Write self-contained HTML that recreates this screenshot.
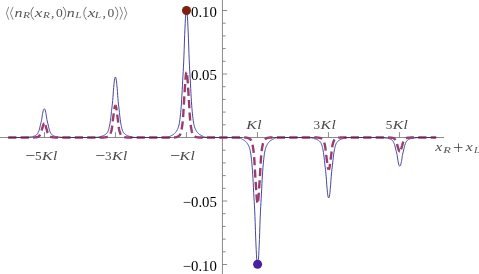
<!DOCTYPE html><html><head><meta charset="utf-8"><style>html,body{margin:0;padding:0;background:#fff;overflow:hidden}</style></head><body><svg width="479" height="274" viewBox="0 0 479 274" style="display:block;will-change:transform">
<rect width="479" height="274" fill="#fff"/>
<g stroke="#6e6e6e" stroke-width="0.8" fill="none">
<line x1="0" y1="137.5" x2="444" y2="137.5"/>
<line x1="222.45" y1="0" x2="222.45" y2="274"/>
<line x1="222.45" y1="264.50" x2="227.14999999999998" y2="264.50"/>
<line x1="222.45" y1="251.80" x2="225.64999999999998" y2="251.80"/>
<line x1="222.45" y1="239.10" x2="225.64999999999998" y2="239.10"/>
<line x1="222.45" y1="226.40" x2="225.64999999999998" y2="226.40"/>
<line x1="222.45" y1="213.70" x2="225.64999999999998" y2="213.70"/>
<line x1="222.45" y1="201.00" x2="227.14999999999998" y2="201.00"/>
<line x1="222.45" y1="188.30" x2="225.64999999999998" y2="188.30"/>
<line x1="222.45" y1="175.60" x2="225.64999999999998" y2="175.60"/>
<line x1="222.45" y1="162.90" x2="225.64999999999998" y2="162.90"/>
<line x1="222.45" y1="150.20" x2="225.64999999999998" y2="150.20"/>
<line x1="222.45" y1="124.80" x2="225.64999999999998" y2="124.80"/>
<line x1="222.45" y1="112.10" x2="225.64999999999998" y2="112.10"/>
<line x1="222.45" y1="99.40" x2="225.64999999999998" y2="99.40"/>
<line x1="222.45" y1="86.70" x2="225.64999999999998" y2="86.70"/>
<line x1="222.45" y1="74.00" x2="227.14999999999998" y2="74.00"/>
<line x1="222.45" y1="61.30" x2="225.64999999999998" y2="61.30"/>
<line x1="222.45" y1="48.60" x2="225.64999999999998" y2="48.60"/>
<line x1="222.45" y1="35.90" x2="225.64999999999998" y2="35.90"/>
<line x1="222.45" y1="23.20" x2="225.64999999999998" y2="23.20"/>
<line x1="222.45" y1="10.50" x2="227.14999999999998" y2="10.50"/>
<line x1="44.45" y1="137.5" x2="44.45" y2="132.1"/>
<line x1="115.45" y1="137.5" x2="115.45" y2="132.1"/>
<line x1="186.45" y1="137.5" x2="186.45" y2="132.1"/>
<line x1="257.45" y1="137.5" x2="257.45" y2="132.1"/>
<line x1="328.45" y1="137.5" x2="328.45" y2="132.1"/>
<line x1="399.45" y1="137.5" x2="399.45" y2="132.1"/>
</g>
<path d="M8.20,137.50 L8.45,137.50 L8.70,137.50 L8.95,137.50 L9.20,137.50 L9.45,137.50 L9.70,137.50 L9.95,137.50 L10.20,137.50 L10.45,137.50 L10.70,137.50 L10.95,137.50 L11.20,137.50 L11.45,137.50 L11.70,137.50 L11.95,137.50 L12.20,137.50 L12.45,137.50 L12.70,137.50 L12.95,137.50 L13.20,137.50 L13.45,137.50 L13.70,137.50 L13.95,137.50 L14.20,137.50 L14.45,137.50 L14.70,137.50 L14.95,137.50 L15.20,137.50 L15.45,137.50 L15.70,137.50 L15.95,137.50 L16.20,137.50 L16.45,137.50 L16.70,137.50 L16.95,137.50 L17.20,137.50 L17.45,137.50 L17.70,137.50 L17.95,137.50 L18.20,137.50 L18.45,137.50 L18.70,137.50 L18.95,137.50 L19.20,137.50 L19.45,137.50 L19.70,137.50 L19.95,137.50 L20.20,137.50 L20.45,137.50 L20.70,137.50 L20.95,137.50 L21.20,137.50 L21.45,137.50 L21.70,137.50 L21.95,137.49 L22.20,137.49 L22.45,137.49 L22.70,137.49 L22.95,137.49 L23.20,137.48 L23.45,137.48 L23.70,137.48 L23.95,137.48 L24.20,137.47 L24.45,137.47 L24.70,137.46 L24.95,137.46 L25.20,137.45 L25.45,137.43 L25.70,137.42 L25.95,137.41 L26.20,137.39 L26.45,137.37 L26.70,137.36 L26.95,137.34 L27.20,137.32 L27.45,137.30 L27.70,137.27 L27.95,137.24 L28.20,137.20 L28.45,137.17 L28.70,137.13 L28.95,137.10 L29.20,137.07 L29.45,137.04 L29.70,137.01 L29.95,136.98 L30.20,136.95 L30.45,136.92 L30.70,136.89 L30.95,136.85 L31.20,136.82 L31.45,136.77 L31.70,136.73 L31.95,136.68 L32.20,136.63 L32.45,136.58 L32.70,136.52 L32.95,136.46 L33.20,136.39 L33.45,136.33 L33.70,136.25 L33.95,136.18 L34.20,136.10 L34.45,136.01 L34.70,135.91 L34.95,135.80 L35.20,135.69 L35.45,135.57 L35.70,135.45 L35.95,135.30 L36.20,135.14 L36.45,134.96 L36.70,134.74 L36.95,134.49 L37.20,134.20 L37.45,133.85 L37.70,133.45 L37.95,132.99 L38.20,132.48 L38.45,131.92 L38.70,131.33 L38.95,130.66 L39.20,129.88 L39.45,129.02 L39.70,128.09 L39.95,127.09 L40.20,125.93 L40.45,124.77 L40.70,123.76 L40.95,122.82 L41.20,121.84 L41.45,120.69 L41.70,119.38 L41.95,117.89 L42.20,116.07 L42.45,114.48 L42.70,113.19 L42.95,111.99 L43.20,110.76 L43.45,109.94 L43.70,109.38 L43.95,109.05 L44.20,108.83 L44.30,108.80 L44.45,108.86 L44.70,109.11 L44.95,109.47 L45.20,110.08 L45.45,110.99 L45.70,112.23 L45.95,113.44 L46.20,114.76 L46.45,116.44 L46.70,118.21 L46.95,119.65 L47.20,120.93 L47.45,122.04 L47.70,123.01 L47.95,123.95 L48.20,124.99 L48.45,126.17 L48.70,127.31 L48.95,128.28 L49.20,129.20 L49.45,130.04 L49.70,130.80 L49.95,131.45 L50.20,132.04 L50.45,132.58 L50.70,133.09 L50.95,133.53 L51.20,133.93 L51.45,134.26 L51.70,134.54 L51.95,134.79 L52.20,135.00 L52.45,135.18 L52.70,135.33 L52.95,135.47 L53.20,135.60 L53.45,135.71 L53.70,135.83 L53.95,135.93 L54.20,136.03 L54.45,136.11 L54.70,136.20 L54.95,136.27 L55.20,136.34 L55.45,136.41 L55.70,136.47 L55.95,136.53 L56.20,136.59 L56.45,136.64 L56.70,136.69 L56.95,136.74 L57.20,136.78 L57.45,136.82 L57.70,136.86 L57.95,136.89 L58.20,136.93 L58.45,136.96 L58.70,136.99 L58.95,137.02 L59.20,137.04 L59.45,137.07 L59.70,137.11 L59.95,137.14 L60.20,137.17 L60.45,137.21 L60.70,137.24 L60.95,137.27 L61.20,137.30 L61.45,137.32 L61.70,137.34 L61.95,137.36 L62.20,137.38 L62.45,137.39 L62.70,137.41 L62.95,137.42 L63.20,137.44 L63.45,137.45 L63.70,137.46 L63.95,137.46 L64.20,137.47 L64.45,137.47 L64.70,137.48 L64.95,137.48 L65.20,137.48 L65.45,137.48 L65.70,137.49 L65.95,137.49 L66.20,137.49 L66.45,137.49 L66.70,137.49 L66.95,137.50 L67.20,137.50 L67.45,137.50 L67.70,137.50 L67.95,137.50 L68.20,137.50 L68.45,137.50 L68.70,137.50 L68.95,137.50 L69.20,137.50 L69.45,137.50 L69.70,137.50 L69.95,137.50 L70.20,137.50 L70.45,137.50 L70.70,137.50 L70.95,137.50 L71.20,137.50 L71.45,137.50 L71.70,137.50 L71.95,137.50 L72.20,137.50 L72.45,137.50 L72.70,137.50 L72.95,137.50 L73.20,137.50 L73.45,137.50 L73.70,137.50 L73.95,137.50 L74.20,137.50 L74.45,137.50 L74.70,137.50 L74.95,137.50 L75.20,137.50 L75.45,137.50 L75.70,137.50 L75.95,137.50 L76.20,137.50 L76.45,137.50 L76.70,137.50 L76.95,137.50 L77.20,137.50 L77.45,137.50 L77.70,137.50 L77.95,137.50 L78.20,137.50 L78.45,137.50 L78.70,137.50 L78.95,137.50 L79.20,137.50 L79.45,137.50 L79.70,137.50 L79.95,137.50 L80.20,137.50 L80.45,137.50 L80.70,137.50 L80.95,137.50 L81.20,137.50 L81.45,137.50 L81.70,137.50 L81.95,137.50 L82.20,137.50 L82.45,137.50 L82.70,137.50 L82.95,137.50 L83.20,137.50 L83.45,137.50 L83.70,137.50 L83.95,137.50 L84.20,137.50 L84.45,137.50 L84.70,137.50 L84.95,137.50 L85.20,137.50 L85.45,137.50 L85.70,137.50 L85.95,137.50 L86.20,137.50 L86.45,137.50 L86.70,137.50 L86.95,137.50 L87.20,137.50 L87.45,137.50 L87.70,137.50 L87.95,137.50 L88.20,137.50 L88.45,137.50 L88.70,137.50 L88.95,137.50 L89.20,137.50 L89.45,137.50 L89.70,137.50 L89.95,137.50 L90.20,137.50 L90.45,137.50 L90.70,137.50 L90.95,137.50 L91.20,137.50 L91.45,137.50 L91.70,137.50 L91.95,137.50 L92.20,137.50 L92.45,137.50 L92.70,137.49 L92.95,137.49 L93.20,137.49 L93.45,137.48 L93.70,137.48 L93.95,137.47 L94.20,137.47 L94.45,137.46 L94.70,137.46 L94.95,137.45 L95.20,137.44 L95.45,137.44 L95.70,137.43 L95.95,137.41 L96.20,137.39 L96.45,137.37 L96.70,137.34 L96.95,137.32 L97.20,137.28 L97.45,137.25 L97.70,137.21 L97.95,137.18 L98.20,137.14 L98.45,137.09 L98.70,137.04 L98.95,136.97 L99.20,136.90 L99.45,136.83 L99.70,136.75 L99.95,136.68 L100.20,136.62 L100.45,136.55 L100.70,136.49 L100.95,136.43 L101.20,136.37 L101.45,136.31 L101.70,136.24 L101.95,136.17 L102.20,136.09 L102.45,136.01 L102.70,135.92 L102.95,135.82 L103.20,135.71 L103.45,135.60 L103.70,135.48 L103.95,135.36 L104.20,135.22 L104.45,135.08 L104.70,134.94 L104.95,134.78 L105.20,134.62 L105.45,134.43 L105.70,134.23 L105.95,134.02 L106.20,133.79 L106.45,133.55 L106.70,133.28 L106.95,133.00 L107.20,132.68 L107.45,132.31 L107.70,131.88 L107.95,131.38 L108.20,130.80 L108.45,130.13 L108.70,129.32 L108.95,128.40 L109.20,127.37 L109.45,126.23 L109.70,125.01 L109.95,123.68 L110.20,122.13 L110.45,120.38 L110.70,118.48 L110.95,116.47 L111.20,114.13 L111.45,111.64 L111.70,109.38 L111.95,107.38 L112.20,105.37 L112.45,103.10 L112.70,100.47 L112.95,97.51 L113.20,93.93 L113.45,90.23 L113.70,87.35 L113.95,84.78 L114.20,82.20 L114.45,80.05 L114.70,78.68 L114.95,77.82 L115.20,77.26 L115.40,77.05 L115.45,77.07 L115.70,77.46 L115.95,78.10 L116.20,79.17 L116.45,80.74 L116.70,83.27 L116.95,85.79 L117.20,88.45 L117.45,91.60 L117.70,95.48 L117.95,98.74 L118.20,101.56 L118.45,104.06 L118.70,106.19 L118.95,108.16 L119.20,110.24 L119.45,112.63 L119.70,115.10 L119.95,117.29 L120.20,119.26 L120.45,121.10 L120.70,122.77 L120.95,124.24 L121.20,125.51 L121.45,126.70 L121.70,127.79 L121.95,128.78 L122.20,129.66 L122.45,130.41 L122.70,131.05 L122.95,131.59 L123.20,132.06 L123.45,132.46 L123.70,132.81 L123.95,133.12 L124.20,133.39 L124.45,133.64 L124.70,133.88 L124.95,134.11 L125.20,134.31 L125.45,134.51 L125.70,134.69 L125.95,134.85 L126.20,135.00 L126.45,135.14 L126.70,135.28 L126.95,135.41 L127.20,135.53 L127.45,135.65 L127.70,135.76 L127.95,135.86 L128.20,135.95 L128.45,136.04 L128.70,136.12 L128.95,136.20 L129.20,136.27 L129.45,136.33 L129.70,136.39 L129.95,136.45 L130.20,136.52 L130.45,136.58 L130.70,136.64 L130.95,136.71 L131.20,136.78 L131.45,136.86 L131.70,136.93 L131.95,137.00 L132.20,137.06 L132.45,137.11 L132.70,137.15 L132.95,137.19 L133.20,137.23 L133.45,137.26 L133.70,137.30 L133.95,137.33 L134.20,137.36 L134.45,137.38 L134.70,137.40 L134.95,137.42 L135.20,137.43 L135.45,137.44 L135.70,137.45 L135.95,137.45 L136.20,137.46 L136.45,137.47 L136.70,137.47 L136.95,137.48 L137.20,137.48 L137.45,137.48 L137.70,137.49 L137.95,137.49 L138.20,137.49 L138.45,137.50 L138.70,137.50 L138.95,137.50 L139.20,137.50 L139.45,137.50 L139.70,137.50 L139.95,137.50 L140.20,137.50 L140.45,137.50 L140.70,137.50 L140.95,137.50 L141.20,137.50 L141.45,137.50 L141.70,137.50 L141.95,137.50 L142.20,137.50 L142.45,137.50 L142.70,137.50 L142.95,137.50 L143.20,137.50 L143.45,137.50 L143.70,137.50 L143.95,137.50 L144.20,137.50 L144.45,137.50 L144.70,137.50 L144.95,137.50 L145.20,137.50 L145.45,137.50 L145.70,137.50 L145.95,137.50 L146.20,137.50 L146.45,137.50 L146.70,137.50 L146.95,137.50 L147.20,137.50 L147.45,137.50 L147.70,137.50 L147.95,137.50 L148.20,137.50 L148.45,137.50 L148.70,137.50 L148.95,137.50 L149.20,137.50 L149.45,137.50 L149.70,137.50 L149.95,137.50 L150.20,137.50 L150.45,137.50 L150.70,137.50 L150.95,137.50 L151.20,137.50 L151.45,137.50 L151.70,137.50 L151.95,137.50 L152.20,137.50 L152.45,137.50 L152.70,137.50 L152.95,137.50 L153.20,137.50 L153.45,137.50 L153.70,137.50 L153.95,137.50 L154.20,137.50 L154.45,137.50 L154.70,137.50 L154.95,137.50 L155.20,137.50 L155.45,137.50 L155.70,137.50 L155.95,137.50 L156.20,137.50 L156.45,137.50 L156.70,137.50 L156.95,137.50 L157.20,137.50 L157.45,137.50 L157.70,137.50 L157.95,137.50 L158.20,137.50 L158.45,137.50 L158.70,137.50 L158.95,137.50 L159.20,137.50 L159.45,137.50 L159.70,137.50 L159.95,137.50 L160.20,137.50 L160.45,137.50 L160.70,137.50 L160.95,137.50 L161.20,137.50 L161.45,137.50 L161.70,137.50 L161.95,137.50 L162.20,137.50 L162.45,137.50 L162.70,137.50 L162.95,137.50 L163.20,137.50 L163.45,137.49 L163.70,137.49 L163.95,137.48 L164.20,137.47 L164.45,137.47 L164.70,137.46 L164.95,137.45 L165.20,137.44 L165.45,137.43 L165.70,137.42 L165.95,137.40 L166.20,137.39 L166.45,137.38 L166.70,137.36 L166.95,137.33 L167.20,137.29 L167.45,137.25 L167.70,137.20 L167.95,137.14 L168.20,137.07 L168.45,137.00 L168.70,136.93 L168.95,136.85 L169.20,136.77 L169.45,136.68 L169.70,136.57 L169.95,136.44 L170.20,136.30 L170.45,136.15 L170.70,135.99 L170.95,135.84 L171.20,135.70 L171.45,135.56 L171.70,135.43 L171.95,135.30 L172.20,135.17 L172.45,135.04 L172.70,134.91 L172.95,134.76 L173.20,134.61 L173.45,134.44 L173.70,134.25 L173.95,134.05 L174.20,133.84 L174.45,133.61 L174.70,133.36 L174.95,133.10 L175.20,132.83 L175.45,132.54 L175.70,132.24 L175.95,131.93 L176.20,131.59 L176.45,131.22 L176.70,130.81 L176.95,130.37 L177.20,129.90 L177.45,129.40 L177.70,128.87 L177.95,128.29 L178.20,127.65 L178.45,126.91 L178.70,126.07 L178.95,125.09 L179.20,123.94 L179.45,122.61 L179.70,121.03 L179.95,119.19 L180.20,117.11 L180.45,114.81 L180.70,112.31 L180.95,109.64 L181.20,106.56 L181.45,103.04 L181.70,99.17 L181.95,95.04 L182.20,90.45 L182.45,85.25 L182.70,80.22 L182.95,75.86 L183.20,71.73 L183.45,67.24 L183.70,62.00 L183.95,56.06 L184.20,49.22 L184.45,41.08 L184.70,34.44 L184.95,28.87 L185.20,23.57 L185.45,18.26 L185.70,14.96 L185.95,12.71 L186.20,11.37 L186.45,10.55 L186.50,10.50 L186.70,10.95 L186.95,12.13 L187.20,13.93 L187.45,16.81 L187.70,21.32 L187.95,26.75 L188.20,32.14 L188.45,38.19 L188.70,45.97 L188.95,53.49 L189.20,59.71 L189.45,65.23 L189.70,70.01 L189.95,74.21 L190.20,78.42 L190.45,83.17 L190.70,88.40 L190.95,93.32 L191.20,97.54 L191.45,101.53 L191.70,105.20 L191.95,108.47 L192.20,111.27 L192.45,113.83 L192.70,116.21 L192.95,118.38 L193.20,120.32 L193.45,122.01 L193.70,123.43 L193.95,124.65 L194.20,125.70 L194.45,126.59 L194.70,127.36 L194.95,128.04 L195.20,128.64 L195.45,129.19 L195.70,129.70 L195.95,130.18 L196.20,130.64 L196.45,131.06 L196.70,131.44 L196.95,131.80 L197.20,132.12 L197.45,132.42 L197.70,132.72 L197.95,133.00 L198.20,133.26 L198.45,133.51 L198.70,133.75 L198.95,133.97 L199.20,134.17 L199.45,134.36 L199.70,134.54 L199.95,134.70 L200.20,134.85 L200.45,134.99 L200.70,135.12 L200.95,135.25 L201.20,135.38 L201.45,135.51 L201.70,135.64 L201.95,135.78 L202.20,135.93 L202.45,136.09 L202.70,136.24 L202.95,136.39 L203.20,136.52 L203.45,136.64 L203.70,136.74 L203.95,136.82 L204.20,136.90 L204.45,136.97 L204.70,137.05 L204.95,137.11 L205.20,137.17 L205.45,137.23 L205.70,137.28 L205.95,137.32 L206.20,137.35 L206.45,137.37 L206.70,137.38 L206.95,137.40 L207.20,137.41 L207.45,137.42 L207.70,137.43 L207.95,137.45 L208.20,137.46 L208.45,137.46 L208.70,137.47 L208.95,137.48 L209.20,137.49 L209.45,137.49 L209.70,137.49 L209.95,137.50 L210.20,137.50 L210.45,137.50 L210.70,137.50 L210.95,137.50 L211.20,137.50 L211.45,137.50 L211.70,137.50 L211.95,137.50 L212.20,137.50 L212.45,137.50 L212.70,137.50 L212.95,137.50 L213.20,137.50 L213.45,137.50 L213.70,137.50 L213.95,137.50 L214.20,137.50 L214.45,137.50 L214.70,137.50 L214.95,137.50 L215.20,137.50 L215.45,137.50 L215.70,137.50 L215.95,137.50 L216.20,137.50 L216.45,137.50 L216.70,137.50 L216.95,137.50 L217.20,137.50 L217.45,137.50 L217.70,137.50 L217.95,137.50 L218.20,137.50 L218.45,137.50 L218.70,137.50 L218.95,137.50 L219.20,137.50 L219.45,137.50 L219.70,137.50 L219.95,137.50 L220.20,137.50 L220.45,137.50 L220.70,137.50 L220.95,137.50 L221.20,137.50 L221.45,137.50 L221.70,137.50 L221.95,137.50 L222.20,137.50 L222.45,137.50 L222.70,137.50 L222.95,137.50 L223.20,137.50 L223.45,137.50 L223.70,137.50 L223.95,137.50 L224.20,137.50 L224.45,137.50 L224.70,137.50 L224.95,137.50 L225.20,137.50 L225.45,137.50 L225.70,137.50 L225.95,137.50 L226.20,137.50 L226.45,137.50 L226.70,137.50 L226.95,137.50 L227.20,137.50 L227.45,137.50 L227.70,137.50 L227.95,137.50 L228.20,137.50 L228.45,137.50 L228.70,137.50 L228.95,137.50 L229.20,137.50 L229.45,137.50 L229.70,137.50 L229.95,137.50 L230.20,137.50 L230.45,137.50 L230.70,137.50 L230.95,137.50 L231.20,137.50 L231.45,137.50 L231.70,137.50 L231.95,137.50 L232.20,137.50 L232.45,137.50 L232.70,137.50 L232.95,137.50 L233.20,137.50 L233.45,137.50 L233.70,137.50 L233.95,137.50 L234.20,137.50 L234.45,137.51 L234.70,137.51 L234.95,137.52 L235.20,137.52 L235.45,137.53 L235.70,137.54 L235.95,137.55 L236.20,137.56 L236.45,137.57 L236.70,137.58 L236.95,137.59 L237.20,137.60 L237.45,137.62 L237.70,137.63 L237.95,137.66 L238.20,137.69 L238.45,137.73 L238.70,137.78 L238.95,137.84 L239.20,137.90 L239.45,137.97 L239.70,138.04 L239.95,138.12 L240.20,138.20 L240.45,138.28 L240.70,138.38 L240.95,138.50 L241.20,138.64 L241.45,138.79 L241.70,138.94 L241.95,139.10 L242.20,139.25 L242.45,139.39 L242.70,139.52 L242.95,139.65 L243.20,139.77 L243.45,139.90 L243.70,140.04 L243.95,140.18 L244.20,140.33 L244.45,140.49 L244.70,140.67 L244.95,140.87 L245.20,141.08 L245.45,141.30 L245.70,141.54 L245.95,141.79 L246.20,142.06 L246.45,142.34 L246.70,142.64 L246.95,142.95 L247.20,143.27 L247.45,143.63 L247.70,144.02 L247.95,144.45 L248.20,144.91 L248.45,145.40 L248.70,145.91 L248.95,146.47 L249.20,147.09 L249.45,147.78 L249.70,148.58 L249.95,149.50 L250.20,150.58 L250.45,151.83 L250.70,153.30 L250.95,155.05 L251.20,157.03 L251.45,159.25 L251.70,161.67 L251.95,164.27 L252.20,167.15 L252.45,170.50 L252.70,174.24 L252.95,178.28 L253.20,182.60 L253.45,187.65 L253.70,192.84 L253.95,197.45 L254.20,201.61 L254.45,205.89 L254.70,210.82 L254.95,216.48 L255.20,222.84 L255.45,230.69 L255.70,238.11 L255.95,243.97 L256.20,249.30 L256.45,254.78 L256.70,258.84 L256.95,261.53 L257.20,263.14 L257.45,264.22 L257.60,264.50 L257.70,264.35 L257.95,263.39 L258.20,261.93 L258.45,259.46 L258.70,255.81 L258.95,250.36 L259.20,245.06 L259.45,239.35 L259.70,232.33 L259.95,224.26 L260.20,217.69 L260.45,211.89 L260.70,206.81 L260.95,202.44 L261.20,198.30 L261.45,193.83 L261.70,188.70 L261.95,183.56 L262.20,179.12 L262.45,175.03 L262.70,171.22 L262.95,167.78 L263.20,164.81 L263.45,162.17 L263.70,159.72 L263.95,157.46 L264.20,155.42 L264.45,153.63 L264.70,152.11 L264.95,150.81 L265.20,149.70 L265.45,148.75 L265.70,147.93 L265.95,147.22 L266.20,146.59 L266.45,146.02 L266.70,145.50 L266.95,145.01 L267.20,144.54 L267.45,144.11 L267.70,143.71 L267.95,143.34 L268.20,143.01 L268.45,142.70 L268.70,142.40 L268.95,142.11 L269.20,141.84 L269.45,141.59 L269.70,141.35 L269.95,141.12 L270.20,140.91 L270.45,140.71 L270.70,140.53 L270.95,140.36 L271.20,140.21 L271.45,140.06 L271.70,139.93 L271.95,139.80 L272.20,139.67 L272.45,139.54 L272.70,139.41 L272.95,139.28 L273.20,139.13 L273.45,138.98 L273.70,138.82 L273.95,138.67 L274.20,138.53 L274.45,138.40 L274.70,138.30 L274.95,138.21 L275.20,138.13 L275.45,138.06 L275.70,137.98 L275.95,137.91 L276.20,137.85 L276.45,137.79 L276.70,137.74 L276.95,137.70 L277.20,137.66 L277.45,137.64 L277.70,137.62 L277.95,137.61 L278.20,137.59 L278.45,137.58 L278.70,137.57 L278.95,137.56 L279.20,137.55 L279.45,137.54 L279.70,137.53 L279.95,137.52 L280.20,137.52 L280.45,137.51 L280.70,137.51 L280.95,137.50 L281.20,137.50 L281.45,137.50 L281.70,137.50 L281.95,137.50 L282.20,137.50 L282.45,137.50 L282.70,137.50 L282.95,137.50 L283.20,137.50 L283.45,137.50 L283.70,137.50 L283.95,137.50 L284.20,137.50 L284.45,137.50 L284.70,137.50 L284.95,137.50 L285.20,137.50 L285.45,137.50 L285.70,137.50 L285.95,137.50 L286.20,137.50 L286.45,137.50 L286.70,137.50 L286.95,137.50 L287.20,137.50 L287.45,137.50 L287.70,137.50 L287.95,137.50 L288.20,137.50 L288.45,137.50 L288.70,137.50 L288.95,137.50 L289.20,137.50 L289.45,137.50 L289.70,137.50 L289.95,137.50 L290.20,137.50 L290.45,137.50 L290.70,137.50 L290.95,137.50 L291.20,137.50 L291.45,137.50 L291.70,137.50 L291.95,137.50 L292.20,137.50 L292.45,137.50 L292.70,137.50 L292.95,137.50 L293.20,137.50 L293.45,137.50 L293.70,137.50 L293.95,137.50 L294.20,137.50 L294.45,137.50 L294.70,137.50 L294.95,137.50 L295.20,137.50 L295.45,137.50 L295.70,137.50 L295.95,137.50 L296.20,137.50 L296.45,137.50 L296.70,137.50 L296.95,137.50 L297.20,137.50 L297.45,137.50 L297.70,137.50 L297.95,137.50 L298.20,137.50 L298.45,137.50 L298.70,137.50 L298.95,137.50 L299.20,137.50 L299.45,137.50 L299.70,137.50 L299.95,137.50 L300.20,137.50 L300.45,137.50 L300.70,137.50 L300.95,137.50 L301.20,137.50 L301.45,137.50 L301.70,137.50 L301.95,137.50 L302.20,137.50 L302.45,137.50 L302.70,137.50 L302.95,137.50 L303.20,137.50 L303.45,137.50 L303.70,137.50 L303.95,137.50 L304.20,137.50 L304.45,137.50 L304.70,137.50 L304.95,137.50 L305.20,137.50 L305.45,137.50 L305.70,137.50 L305.95,137.51 L306.20,137.51 L306.45,137.51 L306.70,137.52 L306.95,137.52 L307.20,137.53 L307.45,137.53 L307.70,137.54 L307.95,137.54 L308.20,137.55 L308.45,137.55 L308.70,137.56 L308.95,137.57 L309.20,137.58 L309.45,137.60 L309.70,137.62 L309.95,137.65 L310.20,137.68 L310.45,137.71 L310.70,137.74 L310.95,137.78 L311.20,137.82 L311.45,137.85 L311.70,137.90 L311.95,137.95 L312.20,138.02 L312.45,138.09 L312.70,138.16 L312.95,138.23 L313.20,138.30 L313.45,138.37 L313.70,138.44 L313.95,138.50 L314.20,138.56 L314.45,138.62 L314.70,138.68 L314.95,138.75 L315.20,138.82 L315.45,138.89 L315.70,138.98 L315.95,139.06 L316.20,139.16 L316.45,139.26 L316.70,139.38 L316.95,139.49 L317.20,139.62 L317.45,139.75 L317.70,139.89 L317.95,140.03 L318.20,140.18 L318.45,140.35 L318.70,140.53 L318.95,140.73 L319.20,140.94 L319.45,141.17 L319.70,141.41 L319.95,141.66 L320.20,141.94 L320.45,142.26 L320.70,142.61 L320.95,143.03 L321.20,143.51 L321.45,144.07 L321.70,144.73 L321.95,145.51 L322.20,146.41 L322.45,147.42 L322.70,148.53 L322.95,149.74 L323.20,151.03 L323.45,152.54 L323.70,154.26 L323.95,156.13 L324.20,158.11 L324.45,160.38 L324.70,162.87 L324.95,165.20 L325.20,167.23 L325.45,169.21 L325.70,171.41 L325.95,173.98 L326.20,176.87 L326.45,180.28 L326.70,184.11 L326.95,187.11 L327.20,189.71 L327.45,192.27 L327.70,194.63 L327.95,196.08 L328.20,197.05 L328.45,197.64 L328.70,197.95 L328.95,197.64 L329.20,197.05 L329.45,196.08 L329.70,194.63 L329.95,192.27 L330.20,189.71 L330.45,187.11 L330.70,184.11 L330.95,180.28 L331.20,176.87 L331.45,173.98 L331.70,171.41 L331.95,169.21 L332.20,167.23 L332.45,165.20 L332.70,162.87 L332.95,160.38 L333.20,158.11 L333.45,156.13 L333.70,154.26 L333.95,152.54 L334.20,151.03 L334.45,149.74 L334.70,148.53 L334.95,147.42 L335.20,146.41 L335.45,145.51 L335.70,144.73 L335.95,144.07 L336.20,143.51 L336.45,143.03 L336.70,142.61 L336.95,142.26 L337.20,141.94 L337.45,141.66 L337.70,141.41 L337.95,141.17 L338.20,140.94 L338.45,140.73 L338.70,140.53 L338.95,140.35 L339.20,140.18 L339.45,140.03 L339.70,139.89 L339.95,139.75 L340.20,139.62 L340.45,139.49 L340.70,139.38 L340.95,139.26 L341.20,139.16 L341.45,139.06 L341.70,138.98 L341.95,138.89 L342.20,138.82 L342.45,138.75 L342.70,138.68 L342.95,138.62 L343.20,138.56 L343.45,138.50 L343.70,138.44 L343.95,138.37 L344.20,138.30 L344.45,138.23 L344.70,138.16 L344.95,138.09 L345.20,138.02 L345.45,137.95 L345.70,137.90 L345.95,137.85 L346.20,137.82 L346.45,137.78 L346.70,137.74 L346.95,137.71 L347.20,137.68 L347.45,137.65 L347.70,137.62 L347.95,137.60 L348.20,137.58 L348.45,137.57 L348.70,137.56 L348.95,137.55 L349.20,137.55 L349.45,137.54 L349.70,137.54 L349.95,137.53 L350.20,137.53 L350.45,137.52 L350.70,137.52 L350.95,137.51 L351.20,137.51 L351.45,137.51 L351.70,137.50 L351.95,137.50 L352.20,137.50 L352.45,137.50 L352.70,137.50 L352.95,137.50 L353.20,137.50 L353.45,137.50 L353.70,137.50 L353.95,137.50 L354.20,137.50 L354.45,137.50 L354.70,137.50 L354.95,137.50 L355.20,137.50 L355.45,137.50 L355.70,137.50 L355.95,137.50 L356.20,137.50 L356.45,137.50 L356.70,137.50 L356.95,137.50 L357.20,137.50 L357.45,137.50 L357.70,137.50 L357.95,137.50 L358.20,137.50 L358.45,137.50 L358.70,137.50 L358.95,137.50 L359.20,137.50 L359.45,137.50 L359.70,137.50 L359.95,137.50 L360.20,137.50 L360.45,137.50 L360.70,137.50 L360.95,137.50 L361.20,137.50 L361.45,137.50 L361.70,137.50 L361.95,137.50 L362.20,137.50 L362.45,137.50 L362.70,137.50 L362.95,137.50 L363.20,137.50 L363.45,137.50 L363.70,137.50 L363.95,137.50 L364.20,137.50 L364.45,137.50 L364.70,137.50 L364.95,137.50 L365.20,137.50 L365.45,137.50 L365.70,137.50 L365.95,137.50 L366.20,137.50 L366.45,137.50 L366.70,137.50 L366.95,137.50 L367.20,137.50 L367.45,137.50 L367.70,137.50 L367.95,137.50 L368.20,137.50 L368.45,137.50 L368.70,137.50 L368.95,137.50 L369.20,137.50 L369.45,137.50 L369.70,137.50 L369.95,137.50 L370.20,137.50 L370.45,137.50 L370.70,137.50 L370.95,137.50 L371.20,137.50 L371.45,137.50 L371.70,137.50 L371.95,137.50 L372.20,137.50 L372.45,137.50 L372.70,137.50 L372.95,137.50 L373.20,137.50 L373.45,137.50 L373.70,137.50 L373.95,137.50 L374.20,137.50 L374.45,137.50 L374.70,137.50 L374.95,137.50 L375.20,137.50 L375.45,137.50 L375.70,137.50 L375.95,137.50 L376.20,137.50 L376.45,137.50 L376.70,137.50 L376.95,137.50 L377.20,137.50 L377.45,137.51 L377.70,137.51 L377.95,137.51 L378.20,137.51 L378.45,137.51 L378.70,137.52 L378.95,137.52 L379.20,137.52 L379.45,137.52 L379.70,137.53 L379.95,137.53 L380.20,137.54 L380.45,137.54 L380.70,137.55 L380.95,137.57 L381.20,137.58 L381.45,137.59 L381.70,137.61 L381.95,137.63 L382.20,137.64 L382.45,137.66 L382.70,137.68 L382.95,137.70 L383.20,137.73 L383.45,137.76 L383.70,137.80 L383.95,137.83 L384.20,137.87 L384.45,137.90 L384.70,137.93 L384.95,137.96 L385.20,137.99 L385.45,138.02 L385.70,138.05 L385.95,138.08 L386.20,138.11 L386.45,138.15 L386.70,138.18 L386.95,138.23 L387.20,138.27 L387.45,138.32 L387.70,138.37 L387.95,138.42 L388.20,138.48 L388.45,138.54 L388.70,138.61 L388.95,138.67 L389.20,138.75 L389.45,138.82 L389.70,138.90 L389.95,138.99 L390.20,139.09 L390.45,139.20 L390.70,139.31 L390.95,139.43 L391.20,139.55 L391.45,139.70 L391.70,139.86 L391.95,140.04 L392.20,140.26 L392.45,140.51 L392.70,140.80 L392.95,141.15 L393.20,141.55 L393.45,142.01 L393.70,142.52 L393.95,143.08 L394.20,143.67 L394.45,144.34 L394.70,145.12 L394.95,145.98 L395.20,146.91 L395.45,147.91 L395.70,149.07 L395.95,150.23 L396.20,151.24 L396.45,152.18 L396.70,153.16 L396.95,154.31 L397.20,155.62 L397.45,157.11 L397.70,158.93 L397.95,160.52 L398.20,161.81 L398.45,163.01 L398.70,164.24 L398.95,165.06 L399.20,165.62 L399.45,165.95 L399.70,166.17 L399.80,166.20 L399.95,166.14 L400.20,165.89 L400.45,165.53 L400.70,164.92 L400.95,164.01 L401.20,162.77 L401.45,161.56 L401.70,160.24 L401.95,158.56 L402.20,156.79 L402.45,155.35 L402.70,154.07 L402.95,152.96 L403.20,151.99 L403.45,151.05 L403.70,150.01 L403.95,148.83 L404.20,147.69 L404.45,146.72 L404.70,145.80 L404.95,144.96 L405.20,144.20 L405.45,143.55 L405.70,142.96 L405.95,142.42 L406.20,141.91 L406.45,141.47 L406.70,141.07 L406.95,140.74 L407.20,140.46 L407.45,140.21 L407.70,140.00 L407.95,139.82 L408.20,139.67 L408.45,139.53 L408.70,139.40 L408.95,139.29 L409.20,139.17 L409.45,139.07 L409.70,138.97 L409.95,138.89 L410.20,138.80 L410.45,138.73 L410.70,138.66 L410.95,138.59 L411.20,138.53 L411.45,138.47 L411.70,138.41 L411.95,138.36 L412.20,138.31 L412.45,138.26 L412.70,138.22 L412.95,138.18 L413.20,138.14 L413.45,138.11 L413.70,138.07 L413.95,138.04 L414.20,138.01 L414.45,137.98 L414.70,137.96 L414.95,137.93 L415.20,137.89 L415.45,137.86 L415.70,137.83 L415.95,137.79 L416.20,137.76 L416.45,137.73 L416.70,137.70 L416.95,137.68 L417.20,137.66 L417.45,137.64 L417.70,137.62 L417.95,137.61 L418.20,137.59 L418.45,137.58 L418.70,137.56 L418.95,137.55 L419.20,137.54 L419.45,137.54 L419.70,137.53 L419.95,137.53 L420.20,137.52 L420.45,137.52 L420.70,137.52 L420.95,137.52 L421.20,137.51 L421.45,137.51 L421.70,137.51 L421.95,137.51 L422.20,137.51 L422.45,137.50 L422.70,137.50 L422.95,137.50 L423.20,137.50 L423.45,137.50 L423.70,137.50 L423.95,137.50 L424.20,137.50 L424.45,137.50 L424.70,137.50 L424.95,137.50 L425.20,137.50 L425.45,137.50 L425.70,137.50 L425.95,137.50 L426.20,137.50 L426.45,137.50 L426.70,137.50 L426.95,137.50 L427.20,137.50 L427.45,137.50 L427.70,137.50 L427.95,137.50 L428.20,137.50 L428.45,137.50 L428.70,137.50 L428.95,137.50 L429.20,137.50 L429.45,137.50 L429.70,137.50 L429.95,137.50 L430.20,137.50 L430.45,137.50 L430.70,137.50 L430.95,137.50 L431.20,137.50 L431.45,137.50 L431.70,137.50 L431.95,137.50 L432.20,137.50 L432.45,137.50 L432.70,137.50 L432.95,137.50 L433.20,137.50 L433.45,137.50 L433.70,137.50 L433.95,137.50 L434.20,137.50 L434.45,137.50 L434.70,137.50 L434.95,137.50 L435.20,137.50 L435.45,137.50 L435.70,137.50 L435.95,137.50 L436.20,137.50" stroke="#3D3D99" stroke-width="0.95" fill="none" stroke-linejoin="round"/>
<path d="M8.20,137.50 L8.45,137.50 L8.70,137.50 L8.95,137.50 L9.20,137.50 L9.45,137.50 L9.70,137.50 L9.95,137.50 L10.20,137.50 L10.45,137.50 L10.70,137.50 L10.95,137.50 L11.20,137.50 L11.45,137.50 L11.70,137.50 L11.95,137.50 L12.20,137.50 L12.45,137.50 L12.70,137.50 L12.95,137.50 L13.20,137.50 L13.45,137.50 L13.70,137.50 L13.95,137.50 L14.20,137.50 L14.45,137.50 L14.70,137.50 L14.95,137.50 L15.20,137.50 L15.45,137.50 L15.70,137.50 L15.95,137.50 L16.20,137.50 L16.45,137.50 L16.70,137.50 L16.95,137.50 L17.20,137.50 L17.45,137.50 L17.70,137.50 L17.95,137.50 L18.20,137.50 L18.45,137.50 L18.70,137.50 L18.95,137.50 L19.20,137.50 L19.45,137.50 L19.70,137.50 L19.95,137.50 L20.20,137.50 L20.45,137.50 L20.70,137.50 L20.95,137.50 L21.20,137.50 L21.45,137.50 L21.70,137.50 L21.95,137.50 L22.20,137.50 L22.45,137.50 L22.70,137.50 L22.95,137.50 L23.20,137.50 L23.45,137.50 L23.70,137.50 L23.95,137.50 L24.20,137.50 L24.45,137.50 L24.70,137.50 L24.95,137.50 L25.20,137.50 L25.45,137.50 L25.70,137.50 L25.95,137.50 L26.20,137.50 L26.45,137.50 L26.70,137.50 L26.95,137.50 L27.20,137.50 L27.45,137.50 L27.70,137.50 L27.95,137.50 L28.20,137.50 L28.45,137.50 L28.70,137.50 L28.95,137.50 L29.20,137.50 L29.45,137.50 L29.70,137.50 L29.95,137.50 L30.20,137.50 L30.45,137.50 L30.70,137.50 L30.95,137.49 L31.20,137.49 L31.45,137.49 L31.70,137.49 L31.95,137.49 L32.20,137.49 L32.45,137.48 L32.70,137.48 L32.95,137.47 L33.20,137.46 L33.45,137.45 L33.70,137.44 L33.95,137.43 L34.20,137.42 L34.45,137.41 L34.70,137.39 L34.95,137.37 L35.20,137.35 L35.45,137.33 L35.70,137.30 L35.95,137.27 L36.20,137.24 L36.45,137.20 L36.70,137.15 L36.95,137.11 L37.20,137.06 L37.45,137.01 L37.70,136.95 L37.95,136.87 L38.20,136.78 L38.45,136.64 L38.70,136.44 L38.95,136.21 L39.20,135.95 L39.45,135.68 L39.70,135.39 L39.95,135.05 L40.20,134.66 L40.45,134.23 L40.70,133.70 L40.95,132.99 L41.20,132.12 L41.45,131.17 L41.70,130.20 L41.95,129.30 L42.20,128.47 L42.45,127.65 L42.70,126.83 L42.95,125.98 L43.20,125.19 L43.45,124.55 L43.70,124.02 L43.95,123.73 L44.20,123.55 L44.30,123.53" stroke="#993D71" stroke-width="2.4" fill="none" stroke-dasharray="8.2 4.25" stroke-dashoffset="0.00" stroke-linejoin="round"/>
<path d="M44.30,123.53 L44.45,123.57 L44.70,123.78 L44.95,124.10 L45.20,124.67 L45.45,125.34 L45.70,126.15 L45.95,127.00 L46.20,127.81 L46.45,128.63 L46.70,129.47 L46.95,130.39 L47.20,131.36 L47.45,132.31 L47.70,133.15 L47.95,133.82 L48.20,134.32 L48.45,134.74 L48.70,135.12 L48.95,135.45 L49.20,135.74 L49.45,136.01 L49.70,136.26 L49.95,136.49 L50.20,136.67 L50.45,136.80 L50.70,136.89 L50.95,136.96 L51.20,137.02 L51.45,137.07 L51.70,137.12 L51.95,137.16 L52.20,137.20 L52.45,137.24 L52.70,137.28 L52.95,137.30 L53.20,137.33 L53.45,137.35 L53.70,137.38 L53.95,137.40 L54.20,137.41 L54.45,137.42 L54.70,137.43 L54.95,137.45 L55.20,137.45 L55.45,137.46 L55.70,137.47 L55.95,137.48 L56.20,137.48 L56.45,137.49 L56.70,137.49 L56.95,137.49 L57.20,137.49 L57.45,137.49 L57.70,137.50 L57.95,137.50 L58.20,137.50 L58.45,137.50 L58.70,137.50 L58.95,137.50 L59.20,137.50 L59.45,137.50 L59.70,137.50 L59.95,137.50 L60.20,137.50 L60.45,137.50 L60.70,137.50 L60.95,137.50 L61.20,137.50 L61.45,137.50 L61.70,137.50 L61.95,137.50 L62.20,137.50 L62.45,137.50 L62.70,137.50 L62.95,137.50 L63.20,137.50 L63.45,137.50 L63.70,137.50 L63.95,137.50 L64.20,137.50 L64.45,137.50 L64.70,137.50 L64.95,137.50 L65.20,137.50 L65.45,137.50 L65.70,137.50 L65.95,137.50 L66.20,137.50 L66.45,137.50 L66.70,137.50 L66.95,137.50 L67.20,137.50 L67.45,137.50 L67.70,137.50 L67.95,137.50 L68.20,137.50 L68.45,137.50 L68.70,137.50 L68.95,137.50 L69.20,137.50 L69.45,137.50 L69.70,137.50 L69.95,137.50 L70.20,137.50 L70.45,137.50 L70.70,137.50 L70.95,137.50 L71.20,137.50 L71.45,137.50 L71.70,137.50 L71.95,137.50 L72.20,137.50 L72.45,137.50 L72.70,137.50 L72.95,137.50 L73.20,137.50 L73.45,137.50 L73.70,137.50 L73.95,137.50 L74.20,137.50 L74.45,137.50 L74.70,137.50 L74.95,137.50 L75.20,137.50 L75.45,137.50 L75.70,137.50 L75.95,137.50 L76.20,137.50 L76.45,137.50 L76.70,137.50 L76.95,137.50 L77.20,137.50 L77.45,137.50 L77.70,137.50 L77.95,137.50 L78.20,137.50 L78.45,137.50 L78.70,137.50 L78.95,137.50 L79.20,137.50 L79.45,137.50 L79.70,137.50 L79.95,137.50 L80.20,137.50 L80.45,137.50 L80.70,137.50 L80.95,137.50 L81.20,137.50 L81.45,137.50 L81.70,137.50 L81.95,137.50 L82.20,137.50 L82.45,137.50 L82.70,137.50 L82.95,137.50 L83.20,137.50 L83.45,137.50 L83.70,137.50 L83.95,137.50 L84.20,137.50 L84.45,137.50 L84.70,137.50 L84.95,137.50 L85.20,137.50 L85.45,137.50 L85.70,137.50 L85.95,137.50 L86.20,137.50 L86.45,137.50 L86.70,137.50 L86.95,137.50 L87.20,137.50 L87.45,137.50 L87.70,137.50 L87.95,137.50 L88.20,137.50 L88.45,137.50 L88.70,137.50 L88.95,137.50 L89.20,137.50 L89.45,137.50 L89.70,137.50 L89.95,137.50 L90.20,137.50 L90.45,137.50 L90.70,137.50 L90.95,137.50 L91.20,137.50 L91.45,137.50 L91.70,137.50 L91.95,137.50 L92.20,137.50 L92.45,137.50 L92.70,137.50 L92.95,137.50 L93.20,137.50 L93.45,137.50 L93.70,137.50 L93.95,137.50 L94.20,137.50 L94.45,137.50 L94.70,137.50 L94.95,137.50 L95.20,137.50 L95.45,137.50 L95.70,137.50 L95.95,137.50 L96.20,137.50 L96.45,137.50 L96.70,137.50 L96.95,137.50 L97.20,137.50 L97.45,137.50 L97.70,137.50 L97.95,137.50 L98.20,137.50 L98.45,137.50 L98.70,137.50 L98.95,137.50 L99.20,137.50 L99.45,137.50 L99.70,137.50 L99.95,137.50 L100.20,137.50 L100.45,137.50 L100.70,137.50 L100.95,137.50 L101.20,137.50 L101.45,137.49 L101.70,137.49 L101.95,137.49 L102.20,137.49 L102.45,137.48 L102.70,137.48 L102.95,137.47 L103.20,137.47 L103.45,137.46 L103.70,137.45 L103.95,137.44 L104.20,137.42 L104.45,137.40 L104.70,137.38 L104.95,137.35 L105.20,137.33 L105.45,137.30 L105.70,137.27 L105.95,137.23 L106.20,137.18 L106.45,137.12 L106.70,137.06 L106.95,137.00 L107.20,136.93 L107.45,136.84 L107.70,136.75 L107.95,136.65 L108.20,136.54 L108.45,136.43 L108.70,136.29 L108.95,136.14 L109.20,135.94 L109.45,135.67 L109.70,135.27 L109.95,134.77 L110.20,134.20 L110.45,133.59 L110.70,132.95 L110.95,132.20 L111.20,131.36 L111.45,130.42 L111.70,129.32 L111.95,127.88 L112.20,126.01 L112.45,123.89 L112.70,121.66 L112.95,119.51 L113.20,117.56 L113.45,115.68 L113.70,113.82 L113.95,111.89 L114.20,109.99 L114.45,108.41 L114.70,107.04 L114.95,106.18 L115.20,105.66 L115.40,105.50" stroke="#993D71" stroke-width="2.4" fill="none" stroke-dasharray="8.2 4.25" stroke-dashoffset="10.37" stroke-linejoin="round"/>
<path d="M115.40,105.50 L115.45,105.51 L115.70,105.84 L115.95,106.43 L116.20,107.55 L116.45,108.99 L116.70,110.73 L116.95,112.67 L117.20,114.56 L117.45,116.43 L117.70,118.33 L117.95,120.35 L118.20,122.55 L118.45,124.76 L118.70,126.80 L118.95,128.51 L119.20,129.79 L119.45,130.81 L119.70,131.71 L119.95,132.51 L120.20,133.21 L120.45,133.83 L120.70,134.43 L120.95,134.98 L121.20,135.45 L121.45,135.80 L121.70,136.02 L121.95,136.20 L122.20,136.35 L122.45,136.47 L122.70,136.58 L122.95,136.69 L123.20,136.79 L123.45,136.88 L123.70,136.96 L123.95,137.03 L124.20,137.09 L124.45,137.15 L124.70,137.20 L124.95,137.24 L125.20,137.28 L125.45,137.31 L125.70,137.34 L125.95,137.36 L126.20,137.39 L126.45,137.41 L126.70,137.43 L126.95,137.44 L127.20,137.46 L127.45,137.46 L127.70,137.47 L127.95,137.47 L128.20,137.48 L128.45,137.48 L128.70,137.49 L128.95,137.49 L129.20,137.49 L129.45,137.50 L129.70,137.50 L129.95,137.50 L130.20,137.50 L130.45,137.50 L130.70,137.50 L130.95,137.50 L131.20,137.50 L131.45,137.50 L131.70,137.50 L131.95,137.50 L132.20,137.50 L132.45,137.50 L132.70,137.50 L132.95,137.50 L133.20,137.50 L133.45,137.50 L133.70,137.50 L133.95,137.50 L134.20,137.50 L134.45,137.50 L134.70,137.50 L134.95,137.50 L135.20,137.50 L135.45,137.50 L135.70,137.50 L135.95,137.50 L136.20,137.50 L136.45,137.50 L136.70,137.50 L136.95,137.50 L137.20,137.50 L137.45,137.50 L137.70,137.50 L137.95,137.50 L138.20,137.50 L138.45,137.50 L138.70,137.50 L138.95,137.50 L139.20,137.50 L139.45,137.50 L139.70,137.50 L139.95,137.50 L140.20,137.50 L140.45,137.50 L140.70,137.50 L140.95,137.50 L141.20,137.50 L141.45,137.50 L141.70,137.50 L141.95,137.50 L142.20,137.50 L142.45,137.50 L142.70,137.50 L142.95,137.50 L143.20,137.50 L143.45,137.50 L143.70,137.50 L143.95,137.50 L144.20,137.50 L144.45,137.50 L144.70,137.50 L144.95,137.50 L145.20,137.50 L145.45,137.50 L145.70,137.50 L145.95,137.50 L146.20,137.50 L146.45,137.50 L146.70,137.50 L146.95,137.50 L147.20,137.50 L147.45,137.50 L147.70,137.50 L147.95,137.50 L148.20,137.50 L148.45,137.50 L148.70,137.50 L148.95,137.50 L149.20,137.50 L149.45,137.50 L149.70,137.50 L149.95,137.50 L150.20,137.50 L150.45,137.50 L150.70,137.50 L150.95,137.50 L151.20,137.50 L151.45,137.50 L151.70,137.50 L151.95,137.50 L152.20,137.50 L152.45,137.50 L152.70,137.50 L152.95,137.50 L153.20,137.50 L153.45,137.50 L153.70,137.50 L153.95,137.50 L154.20,137.50 L154.45,137.50 L154.70,137.50 L154.95,137.50 L155.20,137.50 L155.45,137.50 L155.70,137.50 L155.95,137.50 L156.20,137.50 L156.45,137.50 L156.70,137.50 L156.95,137.50 L157.20,137.50 L157.45,137.50 L157.70,137.50 L157.95,137.50 L158.20,137.50 L158.45,137.50 L158.70,137.50 L158.95,137.50 L159.20,137.50 L159.45,137.50 L159.70,137.50 L159.95,137.50 L160.20,137.50 L160.45,137.50 L160.70,137.50 L160.95,137.50 L161.20,137.50 L161.45,137.50 L161.70,137.50 L161.95,137.50 L162.20,137.50 L162.45,137.50 L162.70,137.50 L162.95,137.50 L163.20,137.50 L163.45,137.50 L163.70,137.50 L163.95,137.50 L164.20,137.50 L164.45,137.50 L164.70,137.50 L164.95,137.50 L165.20,137.50 L165.45,137.50 L165.70,137.50 L165.95,137.50 L166.20,137.50 L166.45,137.50 L166.70,137.50 L166.95,137.50 L167.20,137.50 L167.45,137.50 L167.70,137.50 L167.95,137.50 L168.20,137.50 L168.45,137.50 L168.70,137.50 L168.95,137.50 L169.20,137.50 L169.45,137.50 L169.70,137.50 L169.95,137.50 L170.20,137.50 L170.45,137.50 L170.70,137.50 L170.95,137.50 L171.20,137.50 L171.45,137.50 L171.70,137.50 L171.95,137.50 L172.20,137.50 L172.45,137.49 L172.70,137.49 L172.95,137.48 L173.20,137.47 L173.45,137.47 L173.70,137.46 L173.95,137.45 L174.20,137.44 L174.45,137.43 L174.70,137.41 L174.95,137.38 L175.20,137.35 L175.45,137.31 L175.70,137.27 L175.95,137.22 L176.20,137.17 L176.45,137.12 L176.70,137.06 L176.95,136.98 L177.20,136.89 L177.45,136.78 L177.70,136.66 L177.95,136.54 L178.20,136.40 L178.45,136.23 L178.70,136.05 L178.95,135.85 L179.20,135.64 L179.45,135.41 L179.70,135.16 L179.95,134.86 L180.20,134.50 L180.45,134.04 L180.70,133.33 L180.95,132.38 L181.20,131.27 L181.45,130.05 L181.70,128.79 L181.95,127.37 L182.20,125.74 L182.45,123.91 L182.70,121.84 L182.95,119.23 L183.20,115.76 L183.45,111.61 L183.70,107.13 L183.95,102.66 L184.20,98.55 L184.45,94.68 L184.70,90.89 L184.95,87.05 L185.20,83.11 L185.45,79.58 L185.70,76.66 L185.95,74.38 L186.20,73.18 L186.45,72.50 L186.50,72.48" stroke="#993D71" stroke-width="2.4" fill="none" stroke-dasharray="8.2 4.25" stroke-dashoffset="3.10" stroke-linejoin="round"/>
<path d="M186.50,72.48 L186.70,72.81 L186.95,73.86 L187.20,75.61 L187.45,78.39 L187.70,81.61 L187.95,85.46 L188.20,89.38 L188.45,93.16 L188.70,96.99 L188.95,100.96 L189.20,105.32 L189.45,109.84 L189.70,114.16 L189.95,117.95 L190.20,120.88 L190.45,123.12 L190.70,125.03 L190.95,126.74 L191.20,128.25 L191.45,129.55 L191.70,130.79 L191.95,131.95 L192.20,132.98 L192.45,133.79 L192.70,134.34 L192.95,134.73 L193.20,135.05 L193.45,135.32 L193.70,135.55 L193.95,135.77 L194.20,135.97 L194.45,136.16 L194.70,136.33 L194.95,136.48 L195.20,136.61 L195.45,136.73 L195.70,136.84 L195.95,136.94 L196.20,137.03 L196.45,137.10 L196.70,137.15 L196.95,137.21 L197.20,137.25 L197.45,137.30 L197.70,137.34 L197.95,137.37 L198.20,137.40 L198.45,137.42 L198.70,137.43 L198.95,137.45 L199.20,137.45 L199.45,137.46 L199.70,137.47 L199.95,137.48 L200.20,137.48 L200.45,137.49 L200.70,137.49 L200.95,137.50 L201.20,137.50 L201.45,137.50 L201.70,137.50 L201.95,137.50 L202.20,137.50 L202.45,137.50 L202.70,137.50 L202.95,137.50 L203.20,137.50 L203.45,137.50 L203.70,137.50 L203.95,137.50 L204.20,137.50 L204.45,137.50 L204.70,137.50 L204.95,137.50 L205.20,137.50 L205.45,137.50 L205.70,137.50 L205.95,137.50 L206.20,137.50 L206.45,137.50 L206.70,137.50 L206.95,137.50 L207.20,137.50 L207.45,137.50 L207.70,137.50 L207.95,137.50 L208.20,137.50 L208.45,137.50 L208.70,137.50 L208.95,137.50 L209.20,137.50 L209.45,137.50 L209.70,137.50 L209.95,137.50 L210.20,137.50 L210.45,137.50 L210.70,137.50 L210.95,137.50 L211.20,137.50 L211.45,137.50 L211.70,137.50 L211.95,137.50 L212.20,137.50 L212.45,137.50 L212.70,137.50 L212.95,137.50 L213.20,137.50 L213.45,137.50 L213.70,137.50 L213.95,137.50 L214.20,137.50 L214.45,137.50 L214.70,137.50 L214.95,137.50 L215.20,137.50 L215.45,137.50 L215.70,137.50 L215.95,137.50 L216.20,137.50 L216.45,137.50 L216.70,137.50 L216.95,137.50 L217.20,137.50 L217.45,137.50 L217.70,137.50 L217.95,137.50 L218.20,137.50 L218.45,137.50 L218.70,137.50 L218.95,137.50 L219.20,137.50 L219.45,137.50 L219.70,137.50 L219.95,137.50 L220.20,137.50 L220.45,137.50 L220.70,137.50 L220.95,137.50 L221.20,137.50 L221.45,137.50 L221.70,137.50 L221.95,137.50 L222.20,137.50 L222.45,137.50 L222.70,137.50 L222.95,137.50 L223.20,137.50 L223.45,137.50 L223.70,137.50 L223.95,137.50 L224.20,137.50 L224.45,137.50 L224.70,137.50 L224.95,137.50 L225.20,137.50 L225.45,137.50 L225.70,137.50 L225.95,137.50 L226.20,137.50 L226.45,137.50 L226.70,137.50 L226.95,137.50 L227.20,137.50 L227.45,137.50 L227.70,137.50 L227.95,137.50 L228.20,137.50 L228.45,137.50 L228.70,137.50 L228.95,137.50 L229.20,137.50 L229.45,137.50 L229.70,137.50 L229.95,137.50 L230.20,137.50 L230.45,137.50 L230.70,137.50 L230.95,137.50 L231.20,137.50 L231.45,137.50 L231.70,137.50 L231.95,137.50 L232.20,137.50 L232.45,137.50 L232.70,137.50 L232.95,137.50 L233.20,137.50 L233.45,137.50 L233.70,137.50 L233.95,137.50 L234.20,137.50 L234.45,137.50 L234.70,137.50 L234.95,137.50 L235.20,137.50 L235.45,137.50 L235.70,137.50 L235.95,137.50 L236.20,137.50 L236.45,137.50 L236.70,137.50 L236.95,137.50 L237.20,137.50 L237.45,137.50 L237.70,137.50 L237.95,137.50 L238.20,137.50 L238.45,137.50 L238.70,137.50 L238.95,137.50 L239.20,137.50 L239.45,137.50 L239.70,137.50 L239.95,137.50 L240.20,137.50 L240.45,137.50 L240.70,137.50 L240.95,137.50 L241.20,137.50 L241.45,137.50 L241.70,137.50 L241.95,137.50 L242.20,137.50 L242.45,137.50 L242.70,137.50 L242.95,137.50 L243.20,137.50 L243.45,137.51 L243.70,137.51 L243.95,137.52 L244.20,137.52 L244.45,137.53 L244.70,137.54 L244.95,137.55 L245.20,137.56 L245.45,137.57 L245.70,137.58 L245.95,137.61 L246.20,137.64 L246.45,137.67 L246.70,137.71 L246.95,137.76 L247.20,137.80 L247.45,137.86 L247.70,137.91 L247.95,137.99 L248.20,138.07 L248.45,138.18 L248.70,138.29 L248.95,138.41 L249.20,138.54 L249.45,138.70 L249.70,138.87 L249.95,139.07 L250.20,139.28 L250.45,139.49 L250.70,139.73 L250.95,140.01 L251.20,140.34 L251.45,140.75 L251.70,141.35 L251.95,142.21 L252.20,143.27 L252.45,144.45 L252.70,145.70 L252.95,147.03 L253.20,148.59 L253.45,150.34 L253.70,152.29 L253.95,154.64 L254.20,157.75 L254.45,161.67 L254.70,166.06 L254.95,170.58 L255.20,174.87 L255.45,178.78 L255.70,182.60 L255.95,186.38 L256.20,190.33 L256.45,194.10 L256.70,197.20 L256.95,199.85 L257.20,201.38 L257.45,202.33 L257.60,202.52" stroke="#993D71" stroke-width="2.4" fill="none" stroke-dasharray="8.2 4.25" stroke-dashoffset="9.62" stroke-linejoin="round"/>
<path d="M257.60,202.52 L257.70,202.43 L257.95,201.61 L258.20,200.27 L258.45,197.78 L258.70,194.77 L258.95,191.12 L259.20,187.16 L259.45,183.35 L259.70,179.55 L259.95,175.67 L260.20,171.46 L260.45,166.96 L260.70,162.52 L260.95,158.48 L261.20,155.19 L261.45,152.72 L261.70,150.71 L261.95,148.92 L262.20,147.33 L262.45,145.95 L262.70,144.70 L262.95,143.50 L263.20,142.41 L263.45,141.51 L263.70,140.85 L263.95,140.42 L264.20,140.07 L264.45,139.78 L264.70,139.54 L264.95,139.32 L265.20,139.11 L265.45,138.91 L265.70,138.73 L265.95,138.57 L266.20,138.44 L266.45,138.31 L266.70,138.20 L266.95,138.09 L267.20,138.00 L267.45,137.93 L267.70,137.87 L267.95,137.82 L268.20,137.77 L268.45,137.72 L268.70,137.68 L268.95,137.64 L269.20,137.61 L269.45,137.59 L269.70,137.57 L269.95,137.56 L270.20,137.55 L270.45,137.54 L270.70,137.53 L270.95,137.52 L271.20,137.52 L271.45,137.51 L271.70,137.51 L271.95,137.50 L272.20,137.50 L272.45,137.50 L272.70,137.50 L272.95,137.50 L273.20,137.50 L273.45,137.50 L273.70,137.50 L273.95,137.50 L274.20,137.50 L274.45,137.50 L274.70,137.50 L274.95,137.50 L275.20,137.50 L275.45,137.50 L275.70,137.50 L275.95,137.50 L276.20,137.50 L276.45,137.50 L276.70,137.50 L276.95,137.50 L277.20,137.50 L277.45,137.50 L277.70,137.50 L277.95,137.50 L278.20,137.50 L278.45,137.50 L278.70,137.50 L278.95,137.50 L279.20,137.50 L279.45,137.50 L279.70,137.50 L279.95,137.50 L280.20,137.50 L280.45,137.50 L280.70,137.50 L280.95,137.50 L281.20,137.50 L281.45,137.50 L281.70,137.50 L281.95,137.50 L282.20,137.50 L282.45,137.50 L282.70,137.50 L282.95,137.50 L283.20,137.50 L283.45,137.50 L283.70,137.50 L283.95,137.50 L284.20,137.50 L284.45,137.50 L284.70,137.50 L284.95,137.50 L285.20,137.50 L285.45,137.50 L285.70,137.50 L285.95,137.50 L286.20,137.50 L286.45,137.50 L286.70,137.50 L286.95,137.50 L287.20,137.50 L287.45,137.50 L287.70,137.50 L287.95,137.50 L288.20,137.50 L288.45,137.50 L288.70,137.50 L288.95,137.50 L289.20,137.50 L289.45,137.50 L289.70,137.50 L289.95,137.50 L290.20,137.50 L290.45,137.50 L290.70,137.50 L290.95,137.50 L291.20,137.50 L291.45,137.50 L291.70,137.50 L291.95,137.50 L292.20,137.50 L292.45,137.50 L292.70,137.50 L292.95,137.50 L293.20,137.50 L293.45,137.50 L293.70,137.50 L293.95,137.50 L294.20,137.50 L294.45,137.50 L294.70,137.50 L294.95,137.50 L295.20,137.50 L295.45,137.50 L295.70,137.50 L295.95,137.50 L296.20,137.50 L296.45,137.50 L296.70,137.50 L296.95,137.50 L297.20,137.50 L297.45,137.50 L297.70,137.50 L297.95,137.50 L298.20,137.50 L298.45,137.50 L298.70,137.50 L298.95,137.50 L299.20,137.50 L299.45,137.50 L299.70,137.50 L299.95,137.50 L300.20,137.50 L300.45,137.50 L300.70,137.50 L300.95,137.50 L301.20,137.50 L301.45,137.50 L301.70,137.50 L301.95,137.50 L302.20,137.50 L302.45,137.50 L302.70,137.50 L302.95,137.50 L303.20,137.50 L303.45,137.50 L303.70,137.50 L303.95,137.50 L304.20,137.50 L304.45,137.50 L304.70,137.50 L304.95,137.50 L305.20,137.50 L305.45,137.50 L305.70,137.50 L305.95,137.50 L306.20,137.50 L306.45,137.50 L306.70,137.50 L306.95,137.50 L307.20,137.50 L307.45,137.50 L307.70,137.50 L307.95,137.50 L308.20,137.50 L308.45,137.50 L308.70,137.50 L308.95,137.50 L309.20,137.50 L309.45,137.50 L309.70,137.50 L309.95,137.50 L310.20,137.50 L310.45,137.50 L310.70,137.50 L310.95,137.50 L311.20,137.50 L311.45,137.50 L311.70,137.50 L311.95,137.50 L312.20,137.50 L312.45,137.50 L312.70,137.50 L312.95,137.50 L313.20,137.50 L313.45,137.50 L313.70,137.50 L313.95,137.50 L314.20,137.50 L314.45,137.50 L314.70,137.50 L314.95,137.51 L315.20,137.51 L315.45,137.51 L315.70,137.52 L315.95,137.52 L316.20,137.53 L316.45,137.53 L316.70,137.54 L316.95,137.55 L317.20,137.56 L317.45,137.58 L317.70,137.60 L317.95,137.62 L318.20,137.64 L318.45,137.67 L318.70,137.69 L318.95,137.72 L319.20,137.76 L319.45,137.81 L319.70,137.87 L319.95,137.92 L320.20,137.99 L320.45,138.06 L320.70,138.14 L320.95,138.23 L321.20,138.33 L321.45,138.44 L321.70,138.55 L321.95,138.68 L322.20,138.83 L322.45,139.02 L322.70,139.26 L322.95,139.64 L323.20,140.12 L323.45,140.68 L323.70,141.29 L323.95,141.92 L324.20,142.64 L324.45,143.46 L324.70,144.38 L324.95,145.44 L325.20,146.80 L325.45,148.59 L325.70,150.68 L325.95,152.89 L326.20,155.07 L326.45,157.06 L326.70,158.95 L326.95,160.81 L327.20,162.72 L327.45,164.64 L327.70,166.30 L327.95,167.71 L328.20,168.70 L328.45,169.25 L328.70,169.50" stroke="#993D71" stroke-width="2.4" fill="none" stroke-dasharray="8.2 4.25" stroke-dashoffset="10.71" stroke-linejoin="round"/>
<path d="M328.70,169.50 L328.95,169.25 L329.20,168.70 L329.45,167.71 L329.70,166.30 L329.95,164.64 L330.20,162.72 L330.45,160.81 L330.70,158.95 L330.95,157.06 L331.20,155.07 L331.45,152.89 L331.70,150.68 L331.95,148.59 L332.20,146.80 L332.45,145.44 L332.70,144.38 L332.95,143.46 L333.20,142.64 L333.45,141.92 L333.70,141.29 L333.95,140.68 L334.20,140.12 L334.45,139.64 L334.70,139.26 L334.95,139.02 L335.20,138.83 L335.45,138.68 L335.70,138.55 L335.95,138.44 L336.20,138.33 L336.45,138.23 L336.70,138.14 L336.95,138.06 L337.20,137.99 L337.45,137.92 L337.70,137.87 L337.95,137.81 L338.20,137.76 L338.45,137.72 L338.70,137.69 L338.95,137.67 L339.20,137.64 L339.45,137.62 L339.70,137.60 L339.95,137.58 L340.20,137.56 L340.45,137.55 L340.70,137.54 L340.95,137.53 L341.20,137.53 L341.45,137.52 L341.70,137.52 L341.95,137.51 L342.20,137.51 L342.45,137.51 L342.70,137.50 L342.95,137.50 L343.20,137.50 L343.45,137.50 L343.70,137.50 L343.95,137.50 L344.20,137.50 L344.45,137.50 L344.70,137.50 L344.95,137.50 L345.20,137.50 L345.45,137.50 L345.70,137.50 L345.95,137.50 L346.20,137.50 L346.45,137.50 L346.70,137.50 L346.95,137.50 L347.20,137.50 L347.45,137.50 L347.70,137.50 L347.95,137.50 L348.20,137.50 L348.45,137.50 L348.70,137.50 L348.95,137.50 L349.20,137.50 L349.45,137.50 L349.70,137.50 L349.95,137.50 L350.20,137.50 L350.45,137.50 L350.70,137.50 L350.95,137.50 L351.20,137.50 L351.45,137.50 L351.70,137.50 L351.95,137.50 L352.20,137.50 L352.45,137.50 L352.70,137.50 L352.95,137.50 L353.20,137.50 L353.45,137.50 L353.70,137.50 L353.95,137.50 L354.20,137.50 L354.45,137.50 L354.70,137.50 L354.95,137.50 L355.20,137.50 L355.45,137.50 L355.70,137.50 L355.95,137.50 L356.20,137.50 L356.45,137.50 L356.70,137.50 L356.95,137.50 L357.20,137.50 L357.45,137.50 L357.70,137.50 L357.95,137.50 L358.20,137.50 L358.45,137.50 L358.70,137.50 L358.95,137.50 L359.20,137.50 L359.45,137.50 L359.70,137.50 L359.95,137.50 L360.20,137.50 L360.45,137.50 L360.70,137.50 L360.95,137.50 L361.20,137.50 L361.45,137.50 L361.70,137.50 L361.95,137.50 L362.20,137.50 L362.45,137.50 L362.70,137.50 L362.95,137.50 L363.20,137.50 L363.45,137.50 L363.70,137.50 L363.95,137.50 L364.20,137.50 L364.45,137.50 L364.70,137.50 L364.95,137.50 L365.20,137.50 L365.45,137.50 L365.70,137.50 L365.95,137.50 L366.20,137.50 L366.45,137.50 L366.70,137.50 L366.95,137.50 L367.20,137.50 L367.45,137.50 L367.70,137.50 L367.95,137.50 L368.20,137.50 L368.45,137.50 L368.70,137.50 L368.95,137.50 L369.20,137.50 L369.45,137.50 L369.70,137.50 L369.95,137.50 L370.20,137.50 L370.45,137.50 L370.70,137.50 L370.95,137.50 L371.20,137.50 L371.45,137.50 L371.70,137.50 L371.95,137.50 L372.20,137.50 L372.45,137.50 L372.70,137.50 L372.95,137.50 L373.20,137.50 L373.45,137.50 L373.70,137.50 L373.95,137.50 L374.20,137.50 L374.45,137.50 L374.70,137.50 L374.95,137.50 L375.20,137.50 L375.45,137.50 L375.70,137.50 L375.95,137.50 L376.20,137.50 L376.45,137.50 L376.70,137.50 L376.95,137.50 L377.20,137.50 L377.45,137.50 L377.70,137.50 L377.95,137.50 L378.20,137.50 L378.45,137.50 L378.70,137.50 L378.95,137.50 L379.20,137.50 L379.45,137.50 L379.70,137.50 L379.95,137.50 L380.20,137.50 L380.45,137.50 L380.70,137.50 L380.95,137.50 L381.20,137.50 L381.45,137.50 L381.70,137.50 L381.95,137.50 L382.20,137.50 L382.45,137.50 L382.70,137.50 L382.95,137.50 L383.20,137.50 L383.45,137.50 L383.70,137.50 L383.95,137.50 L384.20,137.50 L384.45,137.50 L384.70,137.50 L384.95,137.50 L385.20,137.50 L385.45,137.50 L385.70,137.50 L385.95,137.50 L386.20,137.50 L386.45,137.51 L386.70,137.51 L386.95,137.51 L387.20,137.51 L387.45,137.51 L387.70,137.51 L387.95,137.52 L388.20,137.52 L388.45,137.53 L388.70,137.54 L388.95,137.55 L389.20,137.56 L389.45,137.57 L389.70,137.58 L389.95,137.59 L390.20,137.61 L390.45,137.63 L390.70,137.65 L390.95,137.67 L391.20,137.70 L391.45,137.73 L391.70,137.76 L391.95,137.80 L392.20,137.85 L392.45,137.89 L392.70,137.94 L392.95,137.99 L393.20,138.05 L393.45,138.13 L393.70,138.22 L393.95,138.36 L394.20,138.56 L394.45,138.79 L394.70,139.05 L394.95,139.32 L395.20,139.61 L395.45,139.95 L395.70,140.34 L395.95,140.77 L396.20,141.30 L396.45,142.01 L396.70,142.88 L396.95,143.83 L397.20,144.80 L397.45,145.70 L397.70,146.53 L397.95,147.35 L398.20,148.17 L398.45,149.02 L398.70,149.81 L398.95,150.45 L399.20,150.98 L399.45,151.27 L399.70,151.45 L399.80,151.47" stroke="#993D71" stroke-width="2.4" fill="none" stroke-dasharray="8.2 4.25" stroke-dashoffset="2.31" stroke-linejoin="round"/>
<path d="M399.80,151.47 L399.95,151.43 L400.20,151.22 L400.45,150.90 L400.70,150.33 L400.95,149.66 L401.20,148.85 L401.45,148.00 L401.70,147.19 L401.95,146.37 L402.20,145.53 L402.45,144.61 L402.70,143.64 L402.95,142.69 L403.20,141.85 L403.45,141.18 L403.70,140.68 L403.95,140.26 L404.20,139.88 L404.45,139.55 L404.70,139.26 L404.95,138.99 L405.20,138.74 L405.45,138.51 L405.70,138.33 L405.95,138.20 L406.20,138.11 L406.45,138.04 L406.70,137.98 L406.95,137.93 L407.20,137.88 L407.45,137.84 L407.70,137.80 L407.95,137.76 L408.20,137.72 L408.45,137.70 L408.70,137.67 L408.95,137.65 L409.20,137.62 L409.45,137.60 L409.70,137.59 L409.95,137.58 L410.20,137.57 L410.45,137.55 L410.70,137.55 L410.95,137.54 L411.20,137.53 L411.45,137.52 L411.70,137.52 L411.95,137.51 L412.20,137.51 L412.45,137.51 L412.70,137.51 L412.95,137.51 L413.20,137.50 L413.45,137.50 L413.70,137.50 L413.95,137.50 L414.20,137.50 L414.45,137.50 L414.70,137.50 L414.95,137.50 L415.20,137.50 L415.45,137.50 L415.70,137.50 L415.95,137.50 L416.20,137.50 L416.45,137.50 L416.70,137.50 L416.95,137.50 L417.20,137.50 L417.45,137.50 L417.70,137.50 L417.95,137.50 L418.20,137.50 L418.45,137.50 L418.70,137.50 L418.95,137.50 L419.20,137.50 L419.45,137.50 L419.70,137.50 L419.95,137.50 L420.20,137.50 L420.45,137.50 L420.70,137.50 L420.95,137.50 L421.20,137.50 L421.45,137.50 L421.70,137.50 L421.95,137.50 L422.20,137.50 L422.45,137.50 L422.70,137.50 L422.95,137.50 L423.20,137.50 L423.45,137.50 L423.70,137.50 L423.95,137.50 L424.20,137.50 L424.45,137.50 L424.70,137.50 L424.95,137.50 L425.20,137.50 L425.45,137.50 L425.70,137.50 L425.95,137.50 L426.20,137.50 L426.45,137.50 L426.70,137.50 L426.95,137.50 L427.20,137.50 L427.45,137.50 L427.70,137.50 L427.95,137.50 L428.20,137.50 L428.45,137.50 L428.70,137.50 L428.95,137.50 L429.20,137.50 L429.45,137.50 L429.70,137.50 L429.95,137.50 L430.20,137.50 L430.45,137.50 L430.70,137.50 L430.95,137.50 L431.20,137.50 L431.45,137.50 L431.70,137.50 L431.95,137.50 L432.20,137.50 L432.45,137.50 L432.70,137.50 L432.95,137.50 L433.20,137.50 L433.45,137.50 L433.70,137.50 L433.95,137.50 L434.20,137.50 L434.45,137.50 L434.70,137.50 L434.95,137.50 L435.20,137.50 L435.45,137.50 L435.70,137.50 L435.95,137.50 L436.20,137.50" stroke="#993D71" stroke-width="2.4" fill="none" stroke-dasharray="8.2 4.25" stroke-dashoffset="10.02" stroke-linejoin="round"/>
<line x1="8.2" y1="137.5" x2="29.3" y2="137.5" stroke="#000" stroke-opacity="0.35" stroke-width="1"/>
<line x1="59.3" y1="137.5" x2="100.4" y2="137.5" stroke="#000" stroke-opacity="0.35" stroke-width="1"/>
<line x1="130.4" y1="137.5" x2="171.5" y2="137.5" stroke="#000" stroke-opacity="0.35" stroke-width="1"/>
<line x1="201.5" y1="137.5" x2="242.6" y2="137.5" stroke="#000" stroke-opacity="0.35" stroke-width="1"/>
<line x1="272.6" y1="137.5" x2="313.7" y2="137.5" stroke="#000" stroke-opacity="0.35" stroke-width="1"/>
<line x1="343.7" y1="137.5" x2="384.8" y2="137.5" stroke="#000" stroke-opacity="0.35" stroke-width="1"/>
<line x1="414.8" y1="137.5" x2="436.2" y2="137.5" stroke="#000" stroke-opacity="0.35" stroke-width="1"/>
<circle cx="186.50" cy="10.50" r="4.5" fill="#7E200D"/>
<circle cx="257.60" cy="264.20" r="4.5" fill="#4A1FA0"/>
<g font-family="'Liberation Serif', serif" font-size="14.8" fill="#000">
<text x="216.9" y="16.70" text-anchor="end">0.10</text>
<text x="216.9" y="80.20" text-anchor="end">0.05</text>
<text x="216.9" y="207.20" text-anchor="end">−0.05</text>
<text x="216.9" y="270.70" text-anchor="end">−0.10</text>
</g>
<line x1="26.30" y1="155.50" x2="34.50" y2="155.50" stroke="#4a4a4a" stroke-width="0.85"/><text x="35.10" y="159.8" font-family="'Liberation Serif', serif" font-size="12.4" fill="#4a4a4a" textLength="6.6" lengthAdjust="spacingAndGlyphs">5</text><text x="42.10" y="159.8" font-family="'Liberation Serif', serif" font-style="italic" font-size="13.4" fill="#4a4a4a" textLength="10.6" lengthAdjust="spacingAndGlyphs">K</text><text x="53.00" y="159.8" font-family="'Liberation Serif', serif" font-style="italic" font-size="13.4" fill="#4a4a4a" textLength="4.3" lengthAdjust="spacingAndGlyphs">l</text>
<line x1="96.30" y1="155.50" x2="104.50" y2="155.50" stroke="#4a4a4a" stroke-width="0.85"/><text x="105.10" y="159.8" font-family="'Liberation Serif', serif" font-size="12.4" fill="#4a4a4a" textLength="6.6" lengthAdjust="spacingAndGlyphs">3</text><text x="112.10" y="159.8" font-family="'Liberation Serif', serif" font-style="italic" font-size="13.4" fill="#4a4a4a" textLength="10.6" lengthAdjust="spacingAndGlyphs">K</text><text x="123.00" y="159.8" font-family="'Liberation Serif', serif" font-style="italic" font-size="13.4" fill="#4a4a4a" textLength="4.3" lengthAdjust="spacingAndGlyphs">l</text>
<line x1="171.10" y1="155.50" x2="179.30" y2="155.50" stroke="#4a4a4a" stroke-width="0.85"/><text x="179.60" y="159.8" font-family="'Liberation Serif', serif" font-style="italic" font-size="13.4" fill="#4a4a4a" textLength="10.6" lengthAdjust="spacingAndGlyphs">K</text><text x="190.50" y="159.8" font-family="'Liberation Serif', serif" font-style="italic" font-size="13.4" fill="#4a4a4a" textLength="4.3" lengthAdjust="spacingAndGlyphs">l</text>
<text x="246.30" y="128.6" font-family="'Liberation Serif', serif" font-style="italic" font-size="13.4" fill="#4a4a4a" textLength="10.6" lengthAdjust="spacingAndGlyphs">K</text><text x="257.20" y="128.6" font-family="'Liberation Serif', serif" font-style="italic" font-size="13.4" fill="#4a4a4a" textLength="4.3" lengthAdjust="spacingAndGlyphs">l</text>
<text x="313.50" y="128.6" font-family="'Liberation Serif', serif" font-size="12.4" fill="#4a4a4a" textLength="6.6" lengthAdjust="spacingAndGlyphs">3</text><text x="320.50" y="128.6" font-family="'Liberation Serif', serif" font-style="italic" font-size="13.4" fill="#4a4a4a" textLength="10.6" lengthAdjust="spacingAndGlyphs">K</text><text x="331.40" y="128.6" font-family="'Liberation Serif', serif" font-style="italic" font-size="13.4" fill="#4a4a4a" textLength="4.3" lengthAdjust="spacingAndGlyphs">l</text>
<text x="385.70" y="128.6" font-family="'Liberation Serif', serif" font-size="12.4" fill="#4a4a4a" textLength="6.6" lengthAdjust="spacingAndGlyphs">5</text><text x="392.70" y="128.6" font-family="'Liberation Serif', serif" font-style="italic" font-size="13.4" fill="#4a4a4a" textLength="10.6" lengthAdjust="spacingAndGlyphs">K</text><text x="403.60" y="128.6" font-family="'Liberation Serif', serif" font-style="italic" font-size="13.4" fill="#4a4a4a" textLength="4.3" lengthAdjust="spacingAndGlyphs">l</text>
<polyline points="8.7,6.8 6.4,13.25 8.7,19.7" fill="none" stroke="#555555" stroke-width="0.7"/>
<polyline points="13.100000000000001,6.8 10.4,13.25 13.100000000000001,19.7" fill="none" stroke="#555555" stroke-width="0.7"/>
<text x="14.5" y="16.7" font-family="'Liberation Serif', serif" font-style="italic" font-size="13.2" fill="#555555" textLength="8.0" lengthAdjust="spacingAndGlyphs">n</text>
<text x="23.0" y="18.3" font-family="'Liberation Serif', serif" font-style="italic" font-size="9" fill="#555555" textLength="7.0" lengthAdjust="spacingAndGlyphs">R</text>
<path d="M33.6,6.8 Q28.28,13.25 33.6,19.7" fill="none" stroke="#555555" stroke-width="0.8"/>
<text x="34.7" y="16.7" font-family="'Liberation Serif', serif" font-style="italic" font-size="13.2" fill="#555555" textLength="7.6" lengthAdjust="spacingAndGlyphs">x</text>
<text x="43.0" y="18.3" font-family="'Liberation Serif', serif" font-style="italic" font-size="9" fill="#555555" textLength="6.8" lengthAdjust="spacingAndGlyphs">R</text>
<text x="51.0" y="16.7" font-family="'Liberation Serif', serif" font-size="13.5" fill="#555555">,</text>
<text x="56.0" y="16.7" font-family="'Liberation Serif', serif" font-size="13.5" fill="#555555">0</text>
<path d="M63.1,6.8 Q68.42,13.25 63.1,19.7" fill="none" stroke="#555555" stroke-width="0.8"/>
<text x="66.7" y="16.7" font-family="'Liberation Serif', serif" font-style="italic" font-size="13.2" fill="#555555" textLength="8.0" lengthAdjust="spacingAndGlyphs">n</text>
<text x="75.2" y="18.3" font-family="'Liberation Serif', serif" font-style="italic" font-size="9" fill="#555555" textLength="6.2" lengthAdjust="spacingAndGlyphs">L</text>
<path d="M86.39999999999999,6.8 Q81.08,13.25 86.39999999999999,19.7" fill="none" stroke="#555555" stroke-width="0.8"/>
<text x="87.8" y="16.7" font-family="'Liberation Serif', serif" font-style="italic" font-size="13.2" fill="#555555" textLength="7.6" lengthAdjust="spacingAndGlyphs">x</text>
<text x="94.8" y="18.3" font-family="'Liberation Serif', serif" font-style="italic" font-size="9" fill="#555555" textLength="6.4" lengthAdjust="spacingAndGlyphs">L</text>
<text x="102.5" y="16.7" font-family="'Liberation Serif', serif" font-size="13.5" fill="#555555">,</text>
<text x="107.5" y="16.7" font-family="'Liberation Serif', serif" font-size="13.5" fill="#555555">0</text>
<path d="M115.2,6.8 Q120.52,13.25 115.2,19.7" fill="none" stroke="#555555" stroke-width="0.8"/>
<polyline points="119.9,6.8 122.5,13.25 119.9,19.7" fill="none" stroke="#555555" stroke-width="0.7"/>
<polyline points="124.2,6.8 126.8,13.25 124.2,19.7" fill="none" stroke="#555555" stroke-width="0.7"/>
<text x="435.2" y="150.5" font-family="'Liberation Serif', serif" font-style="italic" font-size="13.5" fill="#555555" textLength="7.0" lengthAdjust="spacingAndGlyphs">x</text>
<text x="443.3" y="152.7" font-family="'Liberation Serif', serif" font-style="italic" font-size="9" fill="#555555" textLength="7.6" lengthAdjust="spacingAndGlyphs">R</text>
<path d="M453.8,147.5 H462.4 M458.5,143.5 V152.0" stroke="#4a4a4a" stroke-width="0.85" fill="none"/>
<text x="465.8" y="150.5" font-family="'Liberation Serif', serif" font-style="italic" font-size="13.5" fill="#555555" textLength="7.0" lengthAdjust="spacingAndGlyphs">x</text>
<text x="474.0" y="152.7" font-family="'Liberation Serif', serif" font-style="italic" font-size="9" fill="#555555" textLength="6.0" lengthAdjust="spacingAndGlyphs">L</text>
</svg></body></html>
